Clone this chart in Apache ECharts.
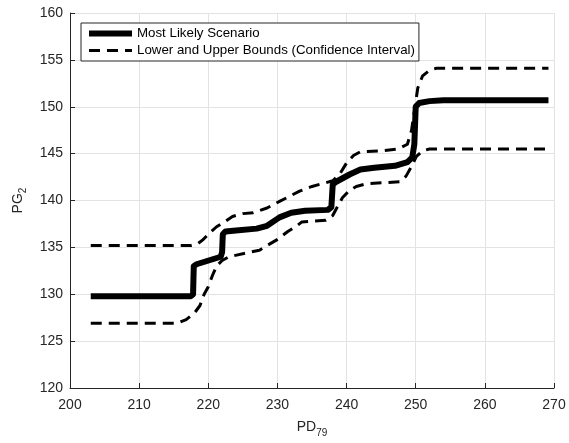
<!DOCTYPE html>
<html>
<head>
<meta charset="utf-8">
<script src="https://cdn.jsdelivr.net/npm/echarts@6/dist/echarts.min.js"></script>
<style>html,body{margin:0;padding:0;background:#fff}#c{width:569px;height:443px}</style>
</head>
<body>
<div id="c"></div>
<script>
// Most Likely Scenario
var mlX = [203, 217.5, 217.8, 217.9, 218.3, 221.8, 222.0, 222.1, 222.5, 224, 227, 228.5, 230.3, 232, 234, 237.3, 237.8, 238.0, 238.5, 240.5, 242, 244, 247, 248.8, 249.5, 249.8, 250.0, 250.5, 252, 254, 269.2];
var mlY = [129.8, 129.8, 130.0, 133.0, 133.2, 134.0, 134.5, 136.4, 136.7, 136.8, 137.0, 137.3, 138.2, 138.7, 138.9, 139.0, 139.3, 141.7, 142.0, 142.8, 143.3, 143.5, 143.7, 144.1, 144.6, 146.0, 150.0, 150.4, 150.6, 150.7, 150.7];
// Upper bound
var upX = [203, 217.5, 218.5, 219.2, 220.3, 221.2, 222.5, 223.5, 225, 226.5, 228.5, 230.3, 233.2, 235, 236.5, 238, 239, 240, 241, 242, 245, 247.5, 248.8, 249.4, 249.8, 250.3, 251, 252, 253, 269.2];
var upY = [135.2, 135.2, 135.4, 135.8, 136.6, 137.2, 137.8, 138.3, 138.6, 138.7, 139.2, 139.9, 141.0, 141.5, 141.8, 142.1, 142.8, 144.0, 144.8, 145.2, 145.3, 145.5, 146.0, 147.5, 149.5, 152.0, 153.3, 153.9, 154.1, 154.1];
// Lower bound
var loX = [203, 215.5, 216.8, 218, 218.8, 219.4, 220, 220.6, 221.2, 222, 223, 225.5, 227.4, 228.5, 229.9, 231.5, 232.8, 233.5, 237, 238, 238.8, 239.4, 240.3, 241.4, 243, 247.7, 248.6, 249.3, 250.1, 251, 252, 269.2];
var loY = [126.9, 126.9, 127.3, 128.0, 128.8, 130.0, 130.8, 132.0, 133.0, 133.6, 134.0, 134.4, 134.7, 135.2, 135.8, 136.7, 137.3, 137.7, 137.9, 138.4, 139.5, 140.3, 141.0, 141.5, 141.8, 142.0, 142.6, 143.5, 144.7, 145.3, 145.5, 145.5];

var xTicks = [200, 210, 220, 230, 240, 250, 260, 270];
var yTicks = [120, 125, 130, 135, 140, 145, 150, 155, 160];

var NAME_ML = 'Most Likely Scenario';
var NAME_CI = 'Lower and Upper Bounds (Confidence Interval)';

function zip(xs, ys) { return xs.map(function (x, i) { return [x, ys[i]]; }); }

var FONT = 'Liberation Sans, Arial, sans-serif';
var AX = '#262626';
var GRID = '#e3e3e3';
var dash = [11, 7];

var subRich = {
  a: {fontFamily: FONT, fontSize: 14, color: AX, verticalAlign: 'middle', lineHeight: 22},
  b: {fontFamily: FONT, fontSize: 10, color: AX, verticalAlign: 'bottom', lineHeight: 10}
};

var chart = echarts.init(document.getElementById('c'), null, {renderer: 'canvas'});
chart.setOption({
  animation: false,
  backgroundColor: '#fff',
  grid: {left: 70, right: 15, top: 13, bottom: 52, containLabel: false},
  legend: {
    show: true,
    left: 81, top: 23, orient: 'vertical',
    backgroundColor: '#fff', borderColor: AX, borderWidth: 1, borderRadius: 0,
    padding: [4, 4, 4, 5], itemGap: 4, itemWidth: 43, itemHeight: 14,
    textStyle: {fontFamily: FONT, fontSize: 13.3, color: '#000'},
    itemStyle: {opacity: 0},
    data: [
      {name: NAME_ML, itemStyle: {opacity: 0}, lineStyle: {width: 6, color: '#000'}},
      {name: NAME_CI, itemStyle: {opacity: 0}, lineStyle: {width: 3, color: '#000'}}
    ]
  },
  xAxis: {
    type: 'value', min: xTicks[0], max: xTicks[xTicks.length - 1], interval: 10,
    name: '{a|PD}{b|79}', nameLocation: 'middle', nameGap: 28,
    nameTextStyle: {fontFamily: FONT, color: AX, rich: subRich},
    axisLine: {show: true, onZero: false, lineStyle: {color: AX, width: 1}},
    axisTick: {show: true, inside: true, length: 5, lineStyle: {color: AX}},
    axisLabel: {fontFamily: FONT, fontSize: 14, color: AX, margin: 10},
    splitLine: {show: true, lineStyle: {color: GRID, width: 1}}
  },
  yAxis: {
    type: 'value', min: yTicks[0], max: yTicks[yTicks.length - 1], interval: 5,
    name: '{a|PG}{b|2}', nameLocation: 'middle', nameGap: 40,
    nameTextStyle: {fontFamily: FONT, color: AX, rich: subRich},
    axisLine: {show: true, onZero: false, lineStyle: {color: AX, width: 1}},
    axisTick: {show: true, inside: true, length: 5, lineStyle: {color: AX}},
    axisLabel: {fontFamily: FONT, fontSize: 14, color: AX, margin: 7},
    splitLine: {show: true, lineStyle: {color: GRID, width: 1}}
  },
  series: [
    {name: NAME_ML, type: 'line', data: zip(mlX, mlY), symbol: 'none', smooth: false, z: 3,
     itemStyle: {color: '#000'},
     lineStyle: {color: '#000', width: 6, type: 'solid', join: 'round'}},
    {name: NAME_CI, type: 'line', data: zip(upX, upY), symbol: 'none', smooth: false, z: 2,
     itemStyle: {color: '#000'},
     lineStyle: {color: '#000', width: 3, type: dash}},
    {name: NAME_CI, type: 'line', data: zip(loX, loY), symbol: 'none', smooth: false, z: 2,
     itemStyle: {color: '#000'},
     lineStyle: {color: '#000', width: 3, type: dash}}
  ]
});
</script>
</body>
</html>
